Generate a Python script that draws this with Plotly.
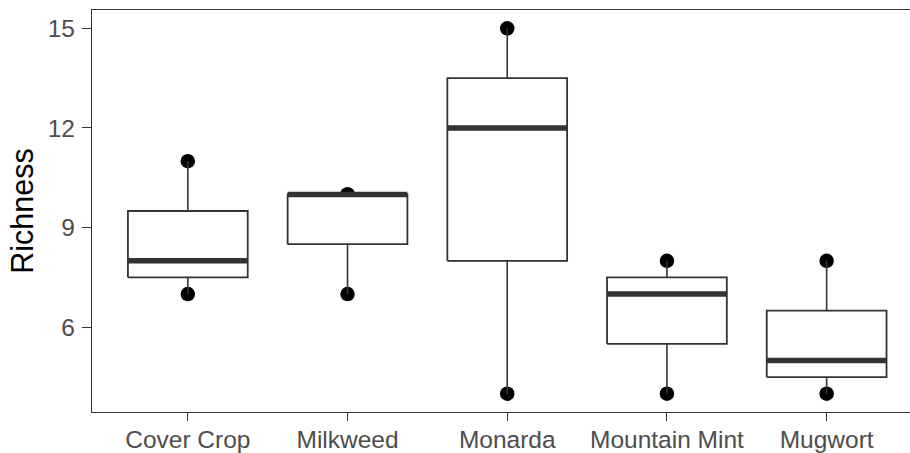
import numpy as np
import plotly.graph_objects as go

# Species richness per planting type
categories = ["Cover Crop", "Milkweed", "Monarda", "Mountain Mint", "Mugwort"]
cover_crop = [7, 8, 11]
milkweed = [7, 10, 10]
monarda = [4, 12, 15]
mountain_mint = [4, 7, 8]
mugwort = [4, 5, 8]
y_ticks = [6, 9, 12, 15]

groups = [cover_crop, milkweed, monarda, mountain_mint, mugwort]

BOX_HALF = 0.375
EDGE = "#333333"
FONT = "Liberation Sans, Arial, sans-serif"

fig = go.Figure()

# raw observations sit underneath the boxes
for i, vals in enumerate(groups):
    fig.add_trace(go.Scatter(
        x=[i] * len(vals), y=vals, mode="markers",
        marker=dict(color="black", size=14.5, line=dict(width=0)),
        hoverinfo="skip",
    ))

# box-and-whisker glyphs built from the quartiles of each group
for i, vals in enumerate(groups):
    arr = np.asarray(vals, dtype=float)
    q1, med, q3 = np.percentile(arr, [25, 50, 75])
    iqr = q3 - q1
    lo = arr[arr >= q1 - 1.5 * iqr].min()
    hi = arr[arr <= q3 + 1.5 * iqr].max()

    # whiskers
    fig.add_trace(go.Scatter(
        x=[i, i, None, i, i], y=[q3, hi, None, q1, lo], mode="lines",
        line=dict(color=EDGE, width=1.6), hoverinfo="skip",
    ))
    # box body
    fig.add_trace(go.Scatter(
        x=[i - BOX_HALF, i + BOX_HALF, i + BOX_HALF, i - BOX_HALF, i - BOX_HALF],
        y=[q1, q1, q3, q3, q1], mode="lines", fill="toself",
        fillcolor="white", line=dict(color=EDGE, width=1.8), hoverinfo="skip",
    ))
    # median
    fig.add_trace(go.Scatter(
        x=[i - BOX_HALF, i + BOX_HALF], y=[med, med], mode="lines",
        line=dict(color=EDGE, width=5.5), hoverinfo="skip",
    ))

fig.update_layout(
    width=910, height=453,
    margin=dict(l=92, r=0, t=10, b=41),
    paper_bgcolor="white", plot_bgcolor="white",
    showlegend=False,
    font=dict(family=FONT),
)

fig.update_xaxes(
    range=[-0.6, 4.522], automargin=False,
    tickvals=list(range(len(categories))), ticktext=categories,
    showgrid=False, zeroline=False,
    showline=True, mirror=True, linecolor=EDGE, linewidth=1.4,
    ticks="outside", ticklen=8, tickwidth=1.4, tickcolor=EDGE,
    tickfont=dict(size=24.5, color="#4D4D4D", family=FONT),
    ticklabelstandoff=-3,
)

fig.update_yaxes(
    range=[3.45, 15.55], automargin=False,
    tickvals=y_ticks, ticktext=[str(v) for v in y_ticks],
    showgrid=False, zeroline=False,
    showline=True, linecolor=EDGE, linewidth=1.4,
    ticks="outside", ticklen=9, tickwidth=1.4, tickcolor=EDGE,
    tickfont=dict(size=24.5, color="#4D4D4D", family=FONT),
    ticklabelstandoff=2,
    title=dict(text="Richness", font=dict(size=30.5, color="black", family=FONT), standoff=4),
)

fig.write_html("out.html")
